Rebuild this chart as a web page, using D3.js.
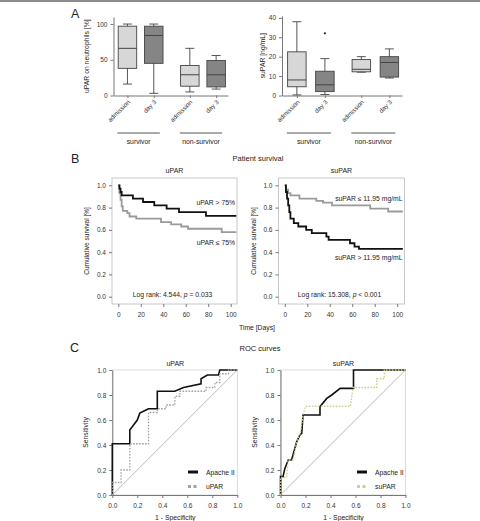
<!DOCTYPE html>
<html>
<head>
<meta charset="utf-8">
<script src="https://cdn.jsdelivr.net/npm/d3@7"></script>
<style>
  body { margin: 0; background: #fff; }
  svg { font-family: "Liberation Sans", Arial, sans-serif; }
  .tick text { fill: #333; }
</style>
</head>
<body>
<script>
// panel A - box plots (min, q1, median, q3, max)
var boxLabels = ["admission", "day 3", "admission", "day 3"];
var groupLabels = ["survivor", "non-survivor"];
var uparStats = [[16, 38, 66, 97, 100], [3, 45, 84, 97, 100], [5, 13, 29, 42, 66], [9, 12, 29, 49, 56]];
var suparStats = [[0.3, 4.5, 8, 22.5, 38], [0.5, 2, 5.5, 12.5, 19], [12, 12.2, 13.5, 18.5, 20], [9, 9.5, 17, 20, 24]];
var suparOutliers = [[1, 32]];
var uparTicks = [0, 50, 100];
var suparTicks = [0, 10, 20, 30, 40];

// panel B - Kaplan-Meier steps [day, survival]
var followUpEnd = 105;
var uparHigh = [[0, 1], [1, 0.97], [2, 0.94], [3, 0.91], [13, 0.88], [22, 0.85], [32, 0.82], [43, 0.79], [54, 0.76], [78, 0.725]];
var uparLow = [[0, 1], [1, 0.93], [2, 0.87], [3, 0.81], [4, 0.77], [8, 0.75], [10, 0.72], [16, 0.70], [38, 0.67], [47, 0.65], [56, 0.63], [62, 0.61], [92, 0.58]];
var suparLow = [[0, 1], [1, 0.96], [3, 0.93], [5, 0.91], [13, 0.88], [28, 0.86], [34, 0.845], [42, 0.82], [76, 0.79], [92, 0.765]];
var suparHigh = [[0, 1], [1, 0.94], [2, 0.88], [3, 0.82], [4, 0.76], [5, 0.70], [8, 0.66], [12, 0.63], [19, 0.60], [24, 0.57], [37, 0.54], [39, 0.51], [58, 0.48], [62, 0.45], [66, 0.43]];
var dayTicks = [0, 20, 40, 60, 80, 100];
var survTicks = [0, 0.2, 0.4, 0.6, 0.8, 1.0];

// panel C - ROC points [1 - specificity, sensitivity]
var rocApacheU = [[0, 0], [0, 0.41], [0.14, 0.41], [0.14, 0.52], [0.17, 0.56], [0.2, 0.6], [0.22, 0.655], [0.27, 0.68], [0.29, 0.69], [0.36, 0.69], [0.36, 0.83], [0.5, 0.83], [0.57, 0.86], [0.71, 0.89], [0.71, 0.93], [0.76, 0.96], [0.85, 0.96], [0.86, 1], [1, 1]];
var rocUpar = [[0, 0], [0, 0.1], [0.07, 0.1], [0.07, 0.2], [0.14, 0.2], [0.14, 0.41], [0.29, 0.41], [0.29, 0.66], [0.36, 0.66], [0.36, 0.69], [0.43, 0.69], [0.43, 0.72], [0.5, 0.72], [0.5, 0.79], [0.54, 0.79], [0.54, 0.83], [0.75, 0.83], [0.75, 0.86], [0.82, 0.86], [0.82, 0.9], [0.86, 0.9], [0.86, 0.97], [0.93, 0.97], [0.93, 1], [1, 1]];
var rocApacheS = [[0, 0], [0, 0.147], [0.02, 0.147], [0.035, 0.213], [0.062, 0.28], [0.088, 0.28], [0.1, 0.32], [0.13, 0.427], [0.155, 0.48], [0.17, 0.493], [0.18, 0.64], [0.316, 0.64], [0.316, 0.707], [0.37, 0.773], [0.41, 0.8], [0.477, 0.853], [0.584, 0.853], [0.584, 1], [1, 1]];
var rocSupar = [[0, 0], [0, 0.14], [0.05, 0.14], [0.06, 0.28], [0.1, 0.28], [0.13, 0.43], [0.16, 0.5], [0.18, 0.64], [0.2, 0.71], [0.56, 0.71], [0.58, 0.86], [0.77, 0.86], [0.77, 0.93], [0.83, 0.93], [0.83, 1], [1, 1]];
var rocTicks = [0, 0.2, 0.4, 0.6, 0.8, 1.0];

var svg = d3.select("body").append("svg")
    .attr("width", 480)
    .attr("height", 521);

svg.append("line")
    .attr("x1", 0).attr("x2", 480).attr("y1", 1).attr("y2", 1)
    .attr("stroke", "#666").attr("stroke-width", 1.5);

function letter(t, x, y) {
    svg.append("text").attr("x", x).attr("y", y)
        .attr("font-size", 12.5).attr("fill", "#222").text(t);
}
function label(t, x, y, size, anchor) {
    return svg.append("text").attr("x", x).attr("y", y)
        .attr("font-size", size).attr("fill", "#222")
        .attr("text-anchor", anchor || "middle").text(t);
}
function styleAxis(g) {
    g.selectAll(".domain").attr("stroke", "#777");
    g.selectAll(".tick line").attr("stroke", "#777");
    g.selectAll(".tick text").attr("font-size", 6.5).attr("font-family", null);
}

// ---------- A ----------
letter("A", 71, 18);

function boxPanel(stats, outliers, ticks, ymax, x0, x1, y0, y1, gap, yTitle, yTitleX) {
    var slot = function (i) { return i + (i >= 2 ? gap : 0); };
    var xScale = d3.scaleLinear().domain([-0.53, 3 + gap + 0.45]).range([x0, x1]);
    var yScale = d3.scaleLinear().domain([0, ymax]).range([y0, y1]);
    var bw = 18.5;
    var g = svg.append("g");

    var yAxis = g.append("g").attr("transform", `translate(${x0},0)`)
        .call(d3.axisLeft(yScale).tickValues(ticks).tickSize(3).tickSizeOuter(0));
    styleAxis(yAxis);
    var xAxis = g.append("g").attr("transform", `translate(0,${y0})`)
        .call(d3.axisBottom(xScale).tickValues(stats.map(function (d, i) { return slot(i); }))
            .tickSize(2.5).tickSizeOuter(0).tickFormat(""));
    styleAxis(xAxis);

    var box = g.selectAll(".box").data(stats).enter().append("g")
        .attr("transform", function (d, i) { return `translate(${xScale(slot(i))},0)`; });
    box.append("line")
        .attr("y1", function (d) { return yScale(d[0]); })
        .attr("y2", function (d) { return yScale(d[4]); })
        .attr("stroke", "#444").attr("stroke-width", 0.9);
    box.selectAll(".cap").data(function (d) { return [d[0], d[4]]; }).enter().append("line")
        .attr("x1", -4.5).attr("x2", 4.5)
        .attr("y1", function (v) { return yScale(v); })
        .attr("y2", function (v) { return yScale(v); })
        .attr("stroke", "#444").attr("stroke-width", 0.9);
    box.append("rect")
        .attr("x", -bw / 2).attr("width", bw)
        .attr("y", function (d) { return yScale(d[3]); })
        .attr("height", function (d) { return yScale(d[1]) - yScale(d[3]); })
        .attr("fill", function (d, i) { return i % 2 ? "#858585" : "#d7d7d7"; })
        .attr("stroke", "#444").attr("stroke-width", 0.9);
    box.append("line")
        .attr("x1", -bw / 2).attr("x2", bw / 2)
        .attr("y1", function (d) { return yScale(d[2]); })
        .attr("y2", function (d) { return yScale(d[2]); })
        .attr("stroke", "#444").attr("stroke-width", 1);

    g.selectAll(".out").data(outliers).enter().append("circle")
        .attr("cx", function (d) { return xScale(slot(d[0])); })
        .attr("cy", function (d) { return yScale(d[1]); })
        .attr("r", 1.1).attr("fill", "#222");

    g.selectAll(".xl").data(boxLabels).enter().append("text")
        .attr("transform", function (d, i) { return `translate(${xScale(slot(i)) + 3},${y0 + 7}) rotate(-45)`; })
        .attr("text-anchor", "end").attr("font-size", 6.3).attr("fill", "#333")
        .text(function (d) { return d; });

    groupLabels.forEach(function (t, k) {
        var a = xScale(slot(2 * k)) - 10, b = xScale(slot(2 * k + 1)) + 6;
        g.append("line").attr("x1", a).attr("x2", b).attr("y1", 133).attr("y2", 133)
            .attr("stroke", "#444").attr("stroke-width", 0.9);
        label(t, (a + b) / 2, 143.5, 6.8);
    });

    label(yTitle, 0, 0, 6.8).attr("transform", `translate(${yTitleX},${(y0 + y1) / 2}) rotate(-90)`);
}

boxPanel(uparStats, [], uparTicks, 110, 113.5, 228, 95.5, 16.9, 0.37, "uPAR on neutrophils [%]", 89);
boxPanel(suparStats, suparOutliers, suparTicks, 41, 282, 402, 95.5, 15.9, 0.3, "suPAR [ng/mL]", 265);

// ---------- B ----------
letter("B", 71, 163);
label("Patient survival", 258, 161, 7.5);
label("Time [Days]", 257, 330, 6.8);

function survPanel(curves, fx0, fx1, title, notes, logrank) {
    var fy0 = 178, fy1 = 304;
    var xScale = d3.scaleLinear().domain([0, 100]).range([fx0 + 6.3, fx0 + 118.7]);
    var yScale = d3.scaleLinear().domain([0, 1]).range([296.7, 185.3]);
    var g = svg.append("g");

    g.append("rect").attr("x", fx0).attr("y", fy0)
        .attr("width", fx1 - fx0).attr("height", fy1 - fy0)
        .attr("fill", "none").attr("stroke", "#bbb").attr("stroke-width", 0.8);

    var yAxis = g.append("g").attr("transform", `translate(${fx0},0)`)
        .call(d3.axisLeft(yScale).tickValues(survTicks).tickSize(3).tickFormat(d3.format(".1f")));
    styleAxis(yAxis);
    yAxis.select(".domain").remove();
    var xAxis = g.append("g").attr("transform", `translate(0,${fy1})`)
        .call(d3.axisBottom(xScale).tickValues(dayTicks).tickSize(3));
    styleAxis(xAxis);
    xAxis.select(".domain").remove();
    xAxis.selectAll(".tick text").attr("dy", "1em");

    var line = d3.line()
        .x(function (d) { return xScale(d[0]); })
        .y(function (d) { return yScale(d[1]); })
        .curve(d3.curveStepAfter);
    curves.forEach(function (c) {
        var pts = c.data.concat([[followUpEnd, c.data[c.data.length - 1][1]]]);
        g.append("path").datum(pts).attr("d", line)
            .attr("fill", "none").attr("stroke", c.color).attr("stroke-width", 1.8);
    });

    notes.forEach(function (n) { label(n[0], fx1 - 2, n[1], 6.8, "end"); });
    label(logrank[0], (fx0 + fx1) / 2 - 2, 296.5, 6.8).text(null)
        .call(function (t) {
            t.append("tspan").text(logrank[0]);
            t.append("tspan").attr("font-style", "italic").text("p");
            t.append("tspan").text(logrank[1]);
        });
    label(title, (fx0 + fx1) / 2, 173, 7);
    label("Cumulative survival [%]", 0, 0, 6.5)
        .attr("transform", `translate(${fx0 - 23},${(fy0 + fy1) / 2}) rotate(-90)`);
}

survPanel([{ data: uparLow, color: "#9a9a9a" }, { data: uparHigh, color: "#111" }],
    112, 237, "uPAR", [["uPAR > 75%", 205], ["uPAR \u2264 75%", 245]], ["Log rank: 4.544, ", " = 0.033"]);
survPanel([{ data: suparLow, color: "#9a9a9a" }, { data: suparHigh, color: "#111" }],
    278.5, 404.5, "suPAR", [["suPAR \u2264 11.95 mg/mL", 201], ["suPAR > 11.95 mg/mL", 259.5]], ["Log rank: 15.308, ", " < 0.001"]);

// ---------- C ----------
letter("C", 70, 352);
label("ROC curves", 260, 351, 7.5);

function rocPanel(curves, x0, title, legend) {
    var xScale = d3.scaleLinear().domain([0, 1]).range([x0, x0 + 125]);
    var yScale = d3.scaleLinear().domain([0, 1]).range([495, 370]);
    var g = svg.append("g");

    g.append("rect").attr("x", x0).attr("y", 370).attr("width", 125).attr("height", 125)
        .attr("fill", "none").attr("stroke", "#ccc").attr("stroke-width", 0.7);
    var yAxis = g.append("g").attr("transform", `translate(${x0},0)`)
        .call(d3.axisLeft(yScale).tickValues(rocTicks).tickSize(3).tickSizeOuter(0).tickFormat(d3.format(".1f")));
    styleAxis(yAxis);
    var xAxis = g.append("g").attr("transform", "translate(0,495)")
        .call(d3.axisBottom(xScale).tickValues(rocTicks).tickSize(3).tickSizeOuter(0).tickFormat(d3.format(".1f")));
    styleAxis(xAxis);
    xAxis.selectAll(".tick text").attr("dy", "1em");

    g.append("line")
        .attr("x1", xScale(0)).attr("y1", yScale(0)).attr("x2", xScale(1)).attr("y2", yScale(1))
        .attr("stroke", "#888").attr("stroke-width", 0.6);

    var line = d3.line()
        .x(function (d) { return xScale(d[0]); })
        .y(function (d) { return yScale(d[1]); });
    curves.forEach(function (c) {
        g.append("path").datum(c.data).attr("d", line)
            .attr("fill", "none").attr("stroke", c.color)
            .attr("stroke-width", c.dash ? 1.3 : 1.6)
            .attr("stroke-dasharray", c.dash || null);
    });

    curves.forEach(function (c, i) {
        var ly = 472 + i * 14.5;
        g.append("line").attr("x1", legend.x).attr("x2", legend.x + 10)
            .attr("y1", ly).attr("y2", ly)
            .attr("stroke", c.color).attr("stroke-width", 3)
            .attr("stroke-dasharray", c.dash ? "3,2.5" : null);
        label(c.name, legend.x + 18, ly + 2.5, 6.8, "start");
    });

    label(title, x0 + 63, 366, 7);
    label("1 - Specificity", x0 + 63, 519.5, 6.8);
    label("Sensitivity", 0, 0, 6.8).attr("transform", `translate(${x0 - 24},432.5) rotate(-90)`);
}

rocPanel([{ data: rocApacheU, color: "#111", name: "Apache II" },
          { data: rocUpar, color: "#a0a0a0", dash: "1.6,1.4", name: "uPAR" }],
    112.3, "uPAR", { x: 188 });
rocPanel([{ data: rocApacheS, color: "#111", name: "Apache II" },
          { data: rocSupar, color: "#cfcf8f", dash: "1.6,1.4", name: "suPAR" }],
    280.5, "suPAR", { x: 357 });
</script>
</body>
</html>
